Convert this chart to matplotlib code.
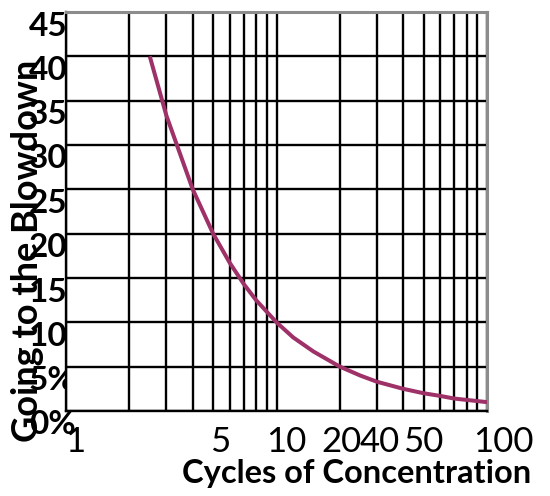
import matplotlib
matplotlib.use("Agg")
import matplotlib.pyplot as plt
import matplotlib.transforms as mtransforms
import numpy as np

# Data
cycles = [2.5, 3, 4, 5, 6, 7, 8, 10, 12, 15, 20, 25, 30, 40, 50, 60, 70, 80, 100]
blowdown_pct = [40, 33.3, 25, 20, 16.7, 14.3, 12.5, 10, 8.3, 6.7, 5, 4, 3.3, 2.5, 2, 1.7, 1.4, 1.25, 1]

xtick_values = [1, 5, 10, 20, 40, 50, 100]
xtick_labels = ["1", "5", "10", "20", "40", "50", "100"]
ytick_values = [0, 5, 10, 15, 20, 25, 30, 35, 40, 45]
ytick_labels = ["0%", "5%", "10%", "15%", "20%", "25%", "30%", "35%", "40%", "45%"]

xlabel = "Cycles of Concentration"
ylabel = "Going to the Blowdown"

plt.rcParams['font.family'] = ['Lato', 'DejaVu Sans']

fig = plt.figure(figsize=(5.5, 4.96), dpi=100)
W, H = 550, 496
ax_left_px, ax_right_px, ax_top_px, ax_bottom_px = 66, 487, 12, 411
ax = fig.add_axes([ax_left_px / W, 1 - ax_bottom_px / H,
                   (ax_right_px - ax_left_px) / W, (ax_bottom_px - ax_top_px) / H])

ax.set_xscale('log')
ax.set_xlim(1, 100)
ax.set_ylim(0, 45)

# grid
grid_x = [v for d in (1, 10) for v in np.arange(1, 10) * d] + [100]
for gx in grid_x:
    ax.axvline(gx, color='black', lw=1.7, zorder=1)
for gy in ytick_values:
    ax.axhline(gy, color='black', lw=1.7, zorder=1)

ax.plot(cycles, blowdown_pct, color='#9E3268', lw=2.9, zorder=3, solid_capstyle='butt')

ax.set_xticks([])
ax.set_yticks([])
ax.xaxis.set_minor_locator(matplotlib.ticker.NullLocator())
for s in ['left', 'bottom']:
    ax.spines[s].set_color('black')
    ax.spines[s].set_linewidth(1.7)
for s in ['top', 'right']:
    ax.spines[s].set_color('#8c8c8c')
    ax.spines[s].set_linewidth(2.2)

# y tick labels, partly hidden by the plot area
ytrans = mtransforms.blended_transform_factory(fig.transFigure, ax.transData)
yoff = mtransforms.ScaledTranslation(0, -14 / 100, fig.dpi_scale_trans)
clip_bbox = mtransforms.TransformedBbox(
    mtransforms.Bbox([[0, 0], [ax_left_px / W, 1]]), fig.transFigure)
for v, lab in zip(ytick_values, ytick_labels):
    t = fig.text(29 / W, v, lab, transform=ytrans + yoff, ha='left', va='center',
                 fontsize=24, fontweight='bold', zorder=2)
    if v > 0:
        t.set_clip_on(True)
        t.set_clip_box(clip_bbox)

# x tick labels
xtrans = mtransforms.blended_transform_factory(ax.transData, fig.transFigure)
x_shift_px = [9, 7, 10, 2, -23, 0, 16]
for v, lab, dx in zip(xtick_values, xtick_labels, x_shift_px):
    off = mtransforms.ScaledTranslation(dx / 100, 0, fig.dpi_scale_trans)
    fig.text(v, 1 - 442 / H, lab, transform=xtrans + off, ha='center', va='center',
             fontsize=25, zorder=5)

fig.text(357 / W, 1 - 473 / H, xlabel, ha='center', va='center',
         fontsize=23.5, fontweight='bold', zorder=6)
fig.text(28 / W, 1 - 251 / H, ylabel, ha='center', va='center', rotation=90,
         fontsize=26, fontweight='bold', zorder=6)

fig.savefig('out.png', dpi=100, facecolor='white')
